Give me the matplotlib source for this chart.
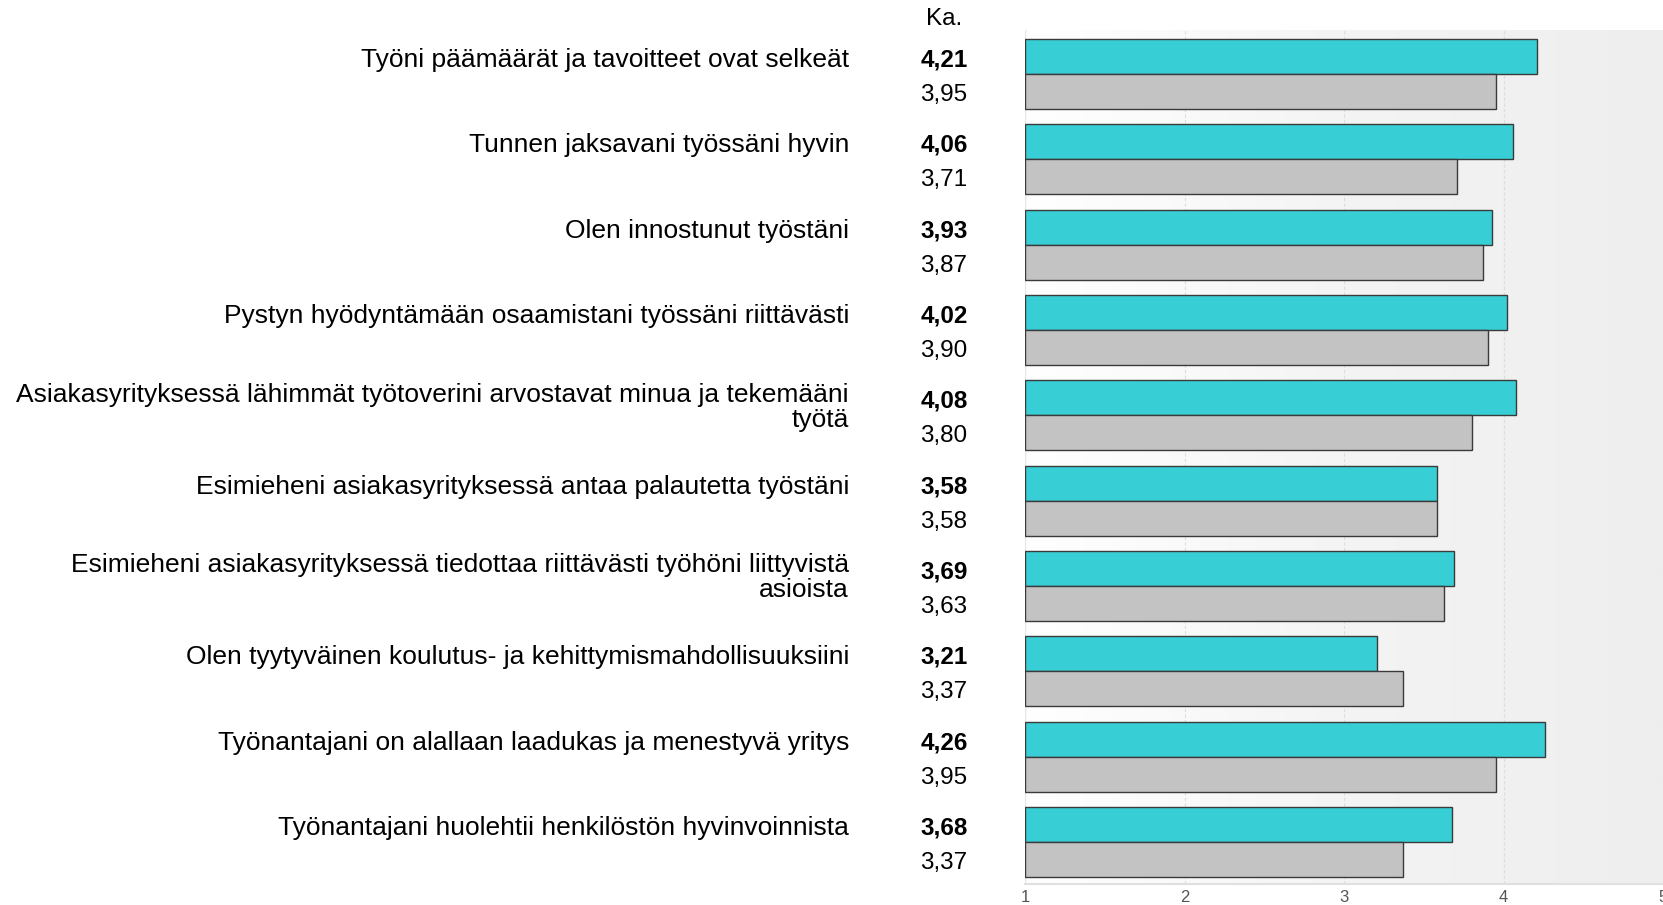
import matplotlib
matplotlib.use("Agg")
import matplotlib.pyplot as plt
import matplotlib.transforms as mtransforms
from matplotlib.colors import LinearSegmentedColormap
import numpy as np

plt.rcParams['font.family'] = ['Liberation Sans', 'DejaVu Sans']

categories = [
    "Työni päämäärät ja tavoitteet ovat selkeät",
    "Tunnen jaksavani työssäni hyvin",
    "Olen innostunut työstäni",
    "Pystyn hyödyntämään osaamistani työssäni riittävästi",
    "Asiakasyrityksessä lähimmät työtoverini arvostavat minua ja tekemääni\ntyötä",
    "Esimieheni asiakasyrityksessä antaa palautetta työstäni",
    "Esimieheni asiakasyrityksessä tiedottaa riittävästi työhöni liittyvistä\nasioista",
    "Olen tyytyväinen koulutus- ja kehittymismahdollisuuksiini",
    "Työnantajani on alallaan laadukas ja menestyvä yritys",
    "Työnantajani huolehtii henkilöstön hyvinvoinnista",
]
series_cyan = [4.21, 4.06, 3.93, 4.02, 4.08, 3.58, 3.69, 3.21, 4.26, 3.68]
series_gray = [3.95, 3.71, 3.87, 3.90, 3.80, 3.58, 3.63, 3.37, 3.95, 3.37]
xticks = [1, 2, 3, 4, 5]
header = "Ka."

fig = plt.figure(figsize=(16.63, 9.05), dpi=100)
ax = fig.add_axes([1025/1663, 1 - 884/905, 1 - 1025/1663, (884 - 30)/905])

n = len(categories)
y = np.arange(n)
h = 0.41
ylo, yhi = -0.515, n - 0.508
ax.set_xlim(1, 5)
ax.set_ylim(yhi, ylo)

# gradient background
grad = np.linspace(0, 1, 256).reshape(1, -1)
cmap = LinearSegmentedColormap.from_list("bg", ["#ffffff", "#f4f4f4", "#eeeeee"])
ax.imshow(grad, extent=[1, 5, yhi, ylo], aspect='auto', cmap=cmap, zorder=0)

for xv in [2, 3, 4]:
    ax.axvline(xv, color='#dddddd', lw=0.8, ls=(0, (3, 2)), zorder=1)
ax.axvline(1, color='#e6e6e6', lw=1.0, zorder=1)

ax.barh(y - h/2, np.array(series_cyan) - 1, left=1, height=h, color='#38ced6',
        edgecolor='#3a3a3a', linewidth=1.0, zorder=3)
ax.barh(y + h/2, np.array(series_gray) - 1, left=1, height=h, color='#c3c3c3',
        edgecolor='#3a3a3a', linewidth=1.0, zorder=3)

for s in ['top', 'right', 'left']:
    ax.spines[s].set_visible(False)
ax.spines['bottom'].set_color('#e0e0e0')
ax.spines['bottom'].set_linewidth(1.5)
ax.set_yticks([])
ax.set_xticks(xticks)
ax.set_xticklabels([str(t) for t in xticks])
ax.tick_params(axis='x', length=0, labelsize=12, colors='#555555', pad=4)

trans = mtransforms.blended_transform_factory(fig.transFigure, ax.transData)
label_x = 849/1663
val_x = 944/1663
fs_lab = 19
fs_val = 17.5
off = 0.04
for i, cat in enumerate(categories):
    yy = i - h/2 + off
    if '\n' in cat:
        yy = i - h/2 + 0.11
    ax.text(label_x, yy, cat, transform=trans, ha='right', va='center',
            fontsize=fs_lab, clip_on=False, linespacing=1.05)
    ax.text(val_x, i - h/2 + off, f"{series_cyan[i]:.2f}".replace('.', ','), transform=trans,
            ha='center', va='center', fontsize=fs_val, fontweight='bold', clip_on=False)
    ax.text(val_x, i + h/2 + off, f"{series_gray[i]:.2f}".replace('.', ','), transform=trans,
            ha='center', va='center', fontsize=fs_val, clip_on=False)

fig.text(val_x, 1 - 19/905, header, ha='center', va='center', fontsize=fs_val)

fig.savefig("out.png", dpi=100)
